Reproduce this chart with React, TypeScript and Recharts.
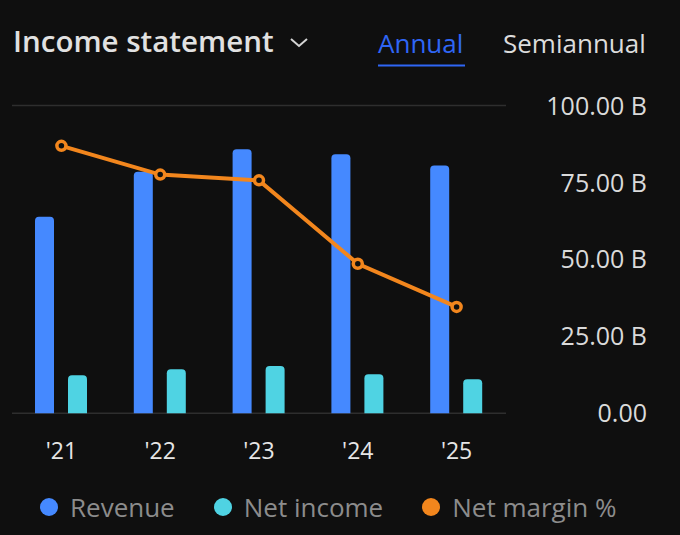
import React from 'react';
import { ComposedChart, Bar, Line, XAxis, YAxis, CartesianGrid } from 'recharts';

const years = ["'21", "'22", "'23", "'24", "'25"];
const revenue = [63.9, 78.5, 85.8, 84.2, 80.5]; // billions
const netIncome = [12.4, 14.3, 15.4, 12.7, 11.1]; // billions
const netMargin = [19.3, 18.3, 18.1, 15.2, 13.7]; // percent
const yTicks = [0, 25, 50, 75, 100];

const BG = '#0f0f0f';
const BLUE = '#4589ff';
const CYAN = '#4fd3e3';
const ORANGE = '#f2861d';
const FONT = '"Open Sans", sans-serif';

const data = years.map((year, i) => ({
  year,
  revenue: revenue[i],
  netIncome: netIncome[i],
  netMargin: netMargin[i],
}));

const legendItems = [
  { name: 'Revenue', color: BLUE },
  { name: 'Net income', color: CYAN },
  { name: 'Net margin %', color: ORANGE },
];

const formatB = (v: number) => (v === 0 ? '0.00' : `${v.toFixed(2)} B`);

const YTick = (props: any) => {
  const { x, y, payload } = props;
  return (
    <text x={x + 141} y={y} dy="0.36em" textAnchor="end" fill="#dadada" fontSize={25} fontFamily={FONT}>
      {formatB(payload.value)}
    </text>
  );
};

const XTick = (props: any) => {
  const { x, y, payload } = props;
  return (
    <text x={x} y={y + 46} textAnchor="middle" fill="#e6e6e6" fontSize={23} fontFamily={FONT}>
      {payload.value}
    </text>
  );
};

const Header = () => (
  <svg width={680} height={80} style={{ position: 'absolute', left: 0, top: 0 }}>
    <text x={13} y={52} fill="#e1e1e1" fontSize={29.5} fontWeight={600} fontFamily={FONT}>
      Income statement
    </text>
    <polyline points="291,39 299,46 307,39" fill="none" stroke="#d4d4d4" strokeWidth={2} />
    <text x={378} y={53} fill="#2f66f5" fontSize={26} fontFamily={FONT}>
      Annual
    </text>
    <rect x={378} y={64.5} width={87} height={2} fill="#2f66f5" />
    <text x={503} y={53} fill="#dcdcdc" fontSize={26} fontFamily={FONT}>
      Semiannual
    </text>
  </svg>
);

const Legend = () => (
  <div
    style={{
      position: 'absolute',
      left: 40,
      top: 489,
      height: 36,
      display: 'flex',
      alignItems: 'center',
      fontFamily: FONT,
      fontSize: 26,
      color: '#8c8c8c',
    }}
  >
    {legendItems.map((item) => (
      <div key={item.name} style={{ display: 'flex', alignItems: 'center', marginRight: 39 }}>
        <span
          style={{ width: 18, height: 18, borderRadius: 9, background: item.color, marginRight: 12 }}
        />
        <span style={{ lineHeight: '36px', whiteSpace: 'nowrap' }}>{item.name}</span>
      </div>
    ))}
  </div>
);

export default function App() {
  return (
    <div
      style={{
        position: 'absolute',
        left: 0,
        top: 0,
        width: 680,
        height: 535,
        background: BG,
        overflow: 'hidden',
      }}
    >
      <ComposedChart
        width={680}
        height={470}
        data={data}
        margin={{ top: 105.6, right: 33, bottom: 0, left: 12 }}
        barGap={14}
        style={{ position: 'absolute', left: 0, top: 0 }}
      >
        <CartesianGrid vertical={false} stroke="#2e2e2e" strokeWidth={1.5} />
        <XAxis
          dataKey="year"
          height={56.7}
          axisLine={false}
          tickLine={false}
          tickSize={0}
          tickMargin={0}
          tick={<XTick />}
          interval={0}
        />
        <YAxis
          yAxisId="b"
          orientation="right"
          width={141}
          domain={[0, 100]}
          ticks={yTicks}
          axisLine={false}
          tickLine={false}
          tickSize={0}
          tickMargin={0}
          tick={<YTick />}
        />
        <YAxis yAxisId="pct" hide domain={[10, 20.7]} />
        <Bar yAxisId="b" dataKey="revenue" name="Revenue" fill={BLUE} barSize={19} radius={[4, 4, 0, 0]} isAnimationActive={false} />
        <Bar yAxisId="b" dataKey="netIncome" name="Net income" fill={CYAN} barSize={19} radius={[4, 4, 0, 0]} isAnimationActive={false} />
        <Line
          yAxisId="pct"
          dataKey="netMargin"
          name="Net margin %"
          type="linear"
          stroke={ORANGE}
          strokeWidth={4}
          dot={{ r: 4.5, fill: BG, stroke: ORANGE, strokeWidth: 3.5 }}
          activeDot={false}
          isAnimationActive={false}
        />
      </ComposedChart>
      <Header />
      <Legend />
    </div>
  );
}
